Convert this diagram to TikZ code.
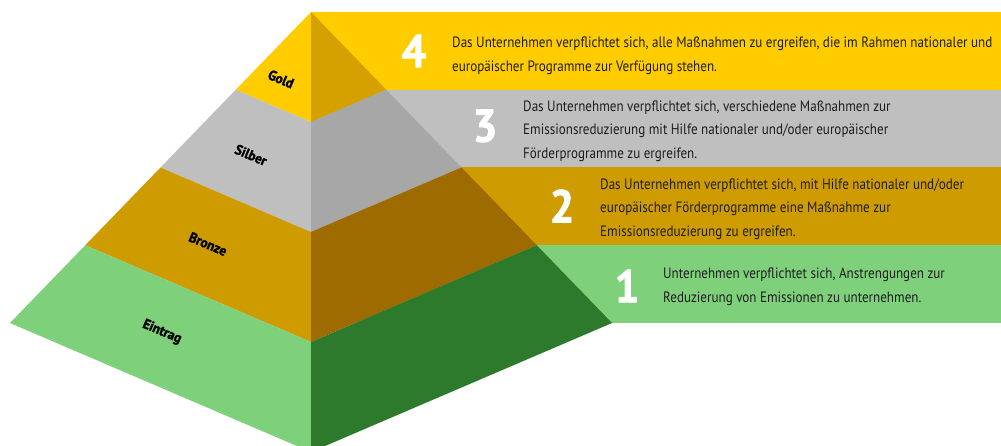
\documentclass[tikz,border=0pt]{standalone}
\usepackage{fontspec}
\setmainfont{PT Sans}[FakeStretch=0.872]
\newfontfamily\heavyfont{PT Sans}[BoldFeatures={FakeBold=1.6}, FakeStretch=0.95]
\definecolor{goldL}{HTML}{FFCC00}
\definecolor{goldR}{HTML}{D4A100}
\definecolor{silverL}{HTML}{BFBFBF}
\definecolor{silverR}{HTML}{A7A7A7}
\definecolor{bronzeL}{HTML}{CE9C00}
\definecolor{bronzeR}{HTML}{9E6B00}
\definecolor{greenL}{HTML}{7FD07B}
\definecolor{greenR}{HTML}{2E7A2D}
\definecolor{txt}{HTML}{1E1E1E}
\tikzset{
  bodytext/.style={font=\fontsize{15}{23.5}\selectfont, text=txt, align=left, inner sep=0pt, anchor=west},
  levelnum/.style={font=\heavyfont\bfseries\fontsize{46}{46}\selectfont, text=white, inner sep=0pt},
  levellabel/.style={font=\heavyfont\bfseries\fontsize{14}{14}\selectfont, text=black, rotate=-23, inner sep=0pt}
}
\begin{document}
\begin{tikzpicture}[x=1pt,y=-1pt]
\useasboundingbox (0,0) rectangle (1001,446);
\clip (0,0) rectangle (1001,446);
% bands to the right
\fill[goldL]   (311,12)     rectangle (1001,89.75);
\fill[silverL] (311,89.75)  rectangle (1001,167.5);
\fill[bronzeL] (311,167.5)  rectangle (1001,245.25);
\fill[greenL]  (311,245.25) rectangle (1001,323);
% left face
\fill[goldL]   (311,12) -- (235.75,89.75) -- (311,122) -- cycle;
\fill[silverL] (235.75,89.75) -- (160.5,167.5) -- (311,232) -- (311,122) -- cycle;
\fill[bronzeL] (160.5,167.5) -- (85.25,245.25) -- (311,342) -- (311,232) -- cycle;
\fill[greenL]  (85.25,245.25) -- (10,323) -- (311,452) -- (311,342) -- cycle;
% right face
\fill[goldR]   (311,12) -- (386.25,89.75) -- (311,122) -- cycle;
\fill[silverR] (386.25,89.75) -- (461.5,167.5) -- (311,232) -- (311,122) -- cycle;
\fill[bronzeR] (461.5,167.5) -- (536.75,245.25) -- (311,342) -- (311,232) -- cycle;
\fill[greenR]  (536.75,245.25) -- (612,323) -- (311,452) -- (311,342) -- cycle;
% labels on the pyramid
\node[levellabel] (lgold)   at (281,79)  {Gold};
\node[levellabel] (lsilber) at (251,155) {Silber};
\node[levellabel] (lbronze) at (208,244) {Bronze};
\node[levellabel] (lentry)  at (162,332) {Eintrag};
% numbers
\node[levelnum] (n4) at (414,51)  {4};
\node[levelnum] (n3) at (485,126) {3};
\node[levelnum] (n2) at (562,206) {2};
\node[levelnum] (n1) at (627,286) {1};
% texts
\node[bodytext] (t4) at (452,56) {Das Unternehmen verpflichtet sich, alle Maßnahmen zu ergreifen, die im Rahmen nationaler und\\europäischer Programme zur Verfügung stehen.};
\node[bodytext] (t3) at (523,131) {Das Unternehmen verpflichtet sich, verschiedene Maßnahmen zur\\Emissionsreduzierung mit Hilfe nationaler und/oder europäischer\\Förderprogramme zu ergreifen.};
\node[bodytext] (t2) at (600,209) {Das Unternehmen verpflichtet sich, mit Hilfe nationaler und/oder\\europäischer Förderprogramme eine Maßnahme zur\\Emissionsreduzierung zu ergreifen.};
\node[bodytext] (t1) at (663,286.5) {Unternehmen verpflichtet sich, Anstrengungen zur\\Reduzierung von Emissionen zu unternehmen.};
\end{tikzpicture}
\end{document}
